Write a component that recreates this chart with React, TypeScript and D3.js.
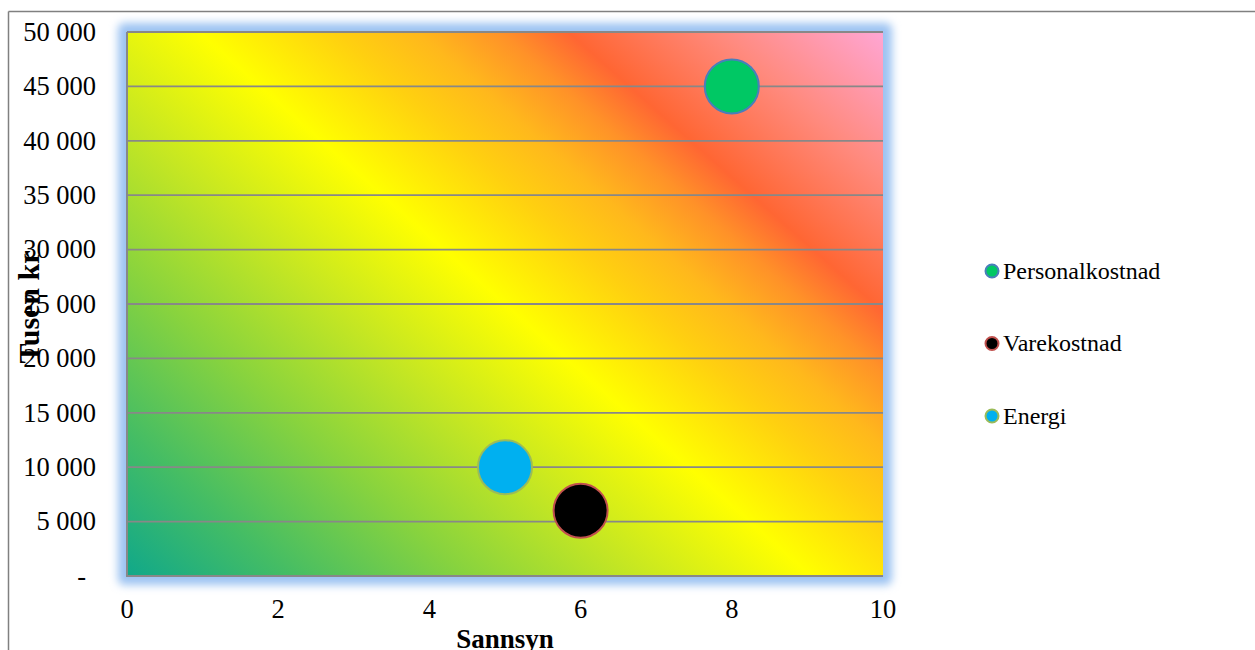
import React from "react";
import * as d3 from "d3";

const seriesNames = ["Personalkostnad", "Varekostnad", "Energi"];
const xValues = [8, 6, 5];
const yValues = [45000, 6000, 10000];
const bubbleSizes = [1, 1, 1];
const fills = ["#00c864", "#000000", "#00b0f0"];
const strokes = ["#4a7ebb", "#c0504d", "#9bbb59"];

const xTicks = [0, 2, 4, 6, 8, 10];
const yTicks = [0, 5000, 10000, 15000, 20000, 25000, 30000, 35000, 40000, 45000, 50000];

const xTitle = "Sannsyn";
const yTitle = "Tusen kr";

const W = 1255;
const H = 650;
const left = 127;
const right = 883;
const top = 32;
const bottom = 576;
const FONT = "'Liberation Serif', 'Times New Roman', serif";

const fmt = (v: number) =>
  v === 0 ? "-" : d3.format(",")(v).replace(/,/g, " ");

export default function App() {
  const x = d3.scaleLinear().domain([0, 10]).range([left, right]);
  const y = d3.scaleLinear().domain([0, 50000]).range([bottom, top]);
  const r = d3.scaleSqrt().domain([0, 1]).range([0, 27]);

  return (
    <div style={{ position: "absolute", left: 0, top: 0, width: W, height: H }}>
      <svg width={W} height={H} style={{ display: "block" }} fontFamily={FONT}>
        <defs>
          <linearGradient id="bg" x1="0" y1="1" x2="1.093" y2="0.115">
            <stop offset="0" stopColor="#10a88a" />
            <stop offset="0.12" stopColor="#45bd64" />
            <stop offset="0.25" stopColor="#88d33e" />
            <stop offset="0.375" stopColor="#c6e722" />
            <stop offset="0.5" stopColor="#ffff00" />
            <stop offset="0.6" stopColor="#ffd010" />
            <stop offset="0.66" stopColor="#ffb81c" />
            <stop offset="0.72" stopColor="#ff9228" />
            <stop offset="0.77" stopColor="#ff6633" />
            <stop offset="0.88" stopColor="#ff8a7e" />
            <stop offset="1" stopColor="#ffa6d4" />
          </linearGradient>
          <filter id="glow" x="-10%" y="-10%" width="120%" height="120%">
            <feGaussianBlur stdDeviation="4" />
          </filter>
        </defs>
        <rect x={0} y={0} width={W} height={H} fill="#ffffff" />
        {/* outer chart border */}
        <line x1={8.5} y1={11.5} x2={W} y2={11.5} stroke="#808080" strokeWidth={1.5} />
        <line x1={8.5} y1={11.5} x2={8.5} y2={H} stroke="#808080" strokeWidth={1.5} />

        {/* glow */}
        <rect
          x={left - 9}
          y={top - 9}
          width={right - left + 18}
          height={bottom - top + 18}
          rx={6}
          fill="#9cc3f2"
          filter="url(#glow)"
        />
        <rect x={left} y={top} width={right - left} height={bottom - top} fill="url(#bg)" />

        {/* gridlines */}
        {yTicks.filter((t) => t > 0).map((t) => (
          <line key={t} x1={left} x2={right} y1={y(t)} y2={y(t)} stroke="#888888" strokeWidth={1.8} />
        ))}
        {/* axes */}
        <line x1={left} x2={left} y1={top} y2={bottom + 1} stroke="#888888" strokeWidth={2} />
        <line x1={left} x2={right} y1={bottom} y2={bottom} stroke="#888888" strokeWidth={2} />

        {/* y tick labels */}
        {yTicks.map((t) => (
          <text
            key={t}
            x={t === 0 ? 86 : 96}
            y={y(t)}
            dy="0.33em"
            textAnchor="end"
            fontSize={26.5}
            fill="#000"
          >
            {fmt(t)}
          </text>
        ))}
        {/* x tick labels */}
        {xTicks.map((t) => (
          <text key={t} x={x(t)} y={618} textAnchor="middle" fontSize={26.5} fill="#000">
            {t}
          </text>
        ))}

        {/* axis titles */}
        <text x={(left + right) / 2} y={648} textAnchor="middle" fontSize={27} fontWeight="bold">
          {xTitle}
        </text>
        <text
          transform={`translate(39, 307) rotate(-90)`}
          textAnchor="middle"
          fontSize={30}
          fontWeight="bold"
        >
          {yTitle}
        </text>

        {/* bubbles */}
        {seriesNames.map((s, i) => (
          <circle
            key={s}
            cx={x(xValues[i])}
            cy={y(yValues[i])}
            r={r(bubbleSizes[i])}
            fill={fills[i]}
            stroke={strokes[i]}
            strokeWidth={2}
          />
        ))}

        {/* legend */}
        {seriesNames.map((s, i) => {
          const ly = 271 + i * 72.5;
          return (
            <g key={s}>
              <circle cx={992} cy={ly} r={6.5} fill={fills[i]} stroke={strokes[i]} strokeWidth={2} />
              <text x={1003} y={ly} dy="0.33em" fontSize={24} fill="#000">
                {s}
              </text>
            </g>
          );
        })}
      </svg>
    </div>
  );
}
